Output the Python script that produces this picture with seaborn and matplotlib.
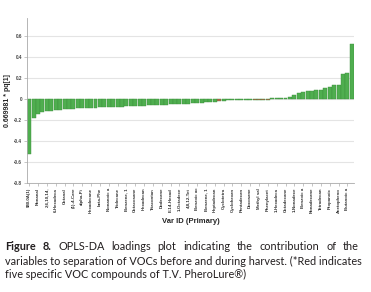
import numpy as np
import pandas as pd
import matplotlib
matplotlib.use("Agg")
import matplotlib.pyplot as plt
import seaborn as sns

# every other bar carries a name on the axis
tick_names = ["$80.0A(1)", "Nonanal", "2,6,10,14,", "6-Hexadeca", "Octanal",
              "(1)-4-Care", "alpha-Pi", "Hexadecane", "beta-Phe", "Nonanoic a",
              "Tridecane", "Benzene, 1", "Octacosane", "Hexadecan", "Triacontan",
              "Dodecane", "E-14-Hexad", "1-Octadece", "4,8,12-Tet", "Benzoic ac",
              "Benzene, 1", "Heptadecan", "Cyclotetra", "Cyclohexan", "Pentadecan",
              "Docosane", "Methyl sal", "Phenylacet", "1-Hexadeca", "Octadecane",
              "1-Nonadece", "Benzoic a", "Nonadecane", "Tetradecan", "Propanoic",
              "Acetopheno", "Butanoic a"]

loadings = [-0.52, -0.18, -0.14, -0.122, -0.116, -0.112, -0.108, -0.104, -0.100, -0.097,
            -0.094, -0.091, -0.088, -0.085, -0.084, -0.082, -0.081, -0.080, -0.078, -0.077,
            -0.075, -0.074, -0.072, -0.070, -0.068, -0.066, -0.064, -0.062, -0.060, -0.058,
            -0.056, -0.054, -0.052, -0.050, -0.048, -0.046, -0.044, -0.042, -0.040, -0.037,
            -0.034, -0.030, -0.026, -0.022, -0.018, -0.015, -0.013, -0.011, -0.010, -0.009,
            -0.008, -0.012, -0.013, -0.013, -0.014, 0.008, 0.010, 0.012, 0.013, 0.015,
            0.038, 0.054, 0.070, 0.072, 0.080, 0.085, 0.087, 0.100, 0.118, 0.130,
            0.132, 0.235, 0.245, 0.525]

# the five PheroLure compounds
lure_bars = [43, 51, 52, 53, 54]

caption = ["Figure 8. OPLS-DA loadings plot indicating the contribution of the",
           "variables to separation of VOCs before and during harvest. (*Red indicates",
           "five specific VOC compounds of T.V. PheroLure®)"]

df = pd.DataFrame({"var": np.arange(len(loadings)), "load": loadings})
df["group"] = np.where(df["var"].isin(lure_bars), "lure", "other")

sns.set_style("white")
plt.rcParams["font.family"] = ["Liberation Sans", "DejaVu Sans"]

fig = plt.figure(figsize=(3.71, 2.92), dpi=100)
ax = fig.add_axes([27 / 371, 1 - 183 / 292, (354 - 27) / 371, (183 - 18) / 292])

sns.barplot(data=df, x="var", y="load", hue="group",
            palette={"other": "#4fae4f", "lure": "#c9574a"}, saturation=1,
            order=list(df["var"]), dodge=False, width=0.9,
            edgecolor="#3c8f3c", linewidth=0.3, legend=False, ax=ax)

ax.set_xlim(-0.5, len(loadings) - 0.5)
ax.set_ylim(-0.8, 0.77)
ax.set_yticks([-0.8, -0.6, -0.4, -0.2, 0, 0.2, 0.4, 0.6])
ax.set_yticklabels(["-0.8", "-0.6", "-0.4", "-0.2", "0", "0.2", "0.4", "0.6"],
                   fontsize=3.3, fontweight="bold", color="#444444")
ax.set_xticks(np.arange(0, len(loadings), 2))
ax.set_xticklabels(tick_names, rotation=90, fontsize=3.2, fontweight="bold",
                   color="#333333")
ax.tick_params(axis="both", length=2, width=0.4, color="#999999", pad=1.5,
               left=True, bottom=True)
ax.grid(axis="y", color="#e4e4e4", linewidth=0.8)
ax.set_axisbelow(True)
for s in ["top", "right"]:
    ax.spines[s].set_visible(False)
for s in ["left", "bottom"]:
    ax.spines[s].set_color("#aaaaaa")
    ax.spines[s].set_linewidth(0.6)
ax.plot([0], [1], marker="^", markersize=2.5, color="#aaaaaa",
        transform=ax.get_yaxis_transform(), clip_on=False)

ax.set_ylabel("0.669981 * pq[1]", fontsize=5, fontweight="bold", labelpad=2)
ax.set_xlabel("Var ID (Primary)", fontsize=5.5, fontweight="bold", labelpad=3)

# caption under the chart, sized so the second line spans the width
cap_font = ["Lato", "DejaVu Sans"]
cap_color = "#231f20"
renderer = fig.canvas.get_renderer()

probe = fig.text(0, 0, caption[1], fontsize=10, family=cap_font)
cap_size = 10 * (359 - 5) / probe.get_window_extent(renderer).width
probe.remove()


def put_line(words, y_px, x0, x1, n_bold=0):
    texts = []
    for k, w in enumerate(words):
        t = fig.text(0, 1 - y_px / 292, w, fontsize=cap_size, family=cap_font,
                     fontweight="bold" if k < n_bold else "normal",
                     color=cap_color, ha="left", va="center")
        texts.append(t)
    widths = [t.get_window_extent(renderer).width for t in texts]
    gap = (x1 - x0 - sum(widths)) / (len(words) - 1)
    x = x0
    for t, w in zip(texts, widths):
        t.set_x(x / 371)
        x += w + gap


put_line(caption[0].split(), 247, 5, 359, n_bold=2)
fig.text(5 / 371, 1 - 261 / 292, caption[1], fontsize=cap_size, family=cap_font,
         color=cap_color, ha="left", va="center")
fig.text(5 / 371, 1 - 274 / 292, caption[2], fontsize=cap_size, family=cap_font,
         color=cap_color, ha="left", va="center")

fig.savefig("out.png", dpi=100)
